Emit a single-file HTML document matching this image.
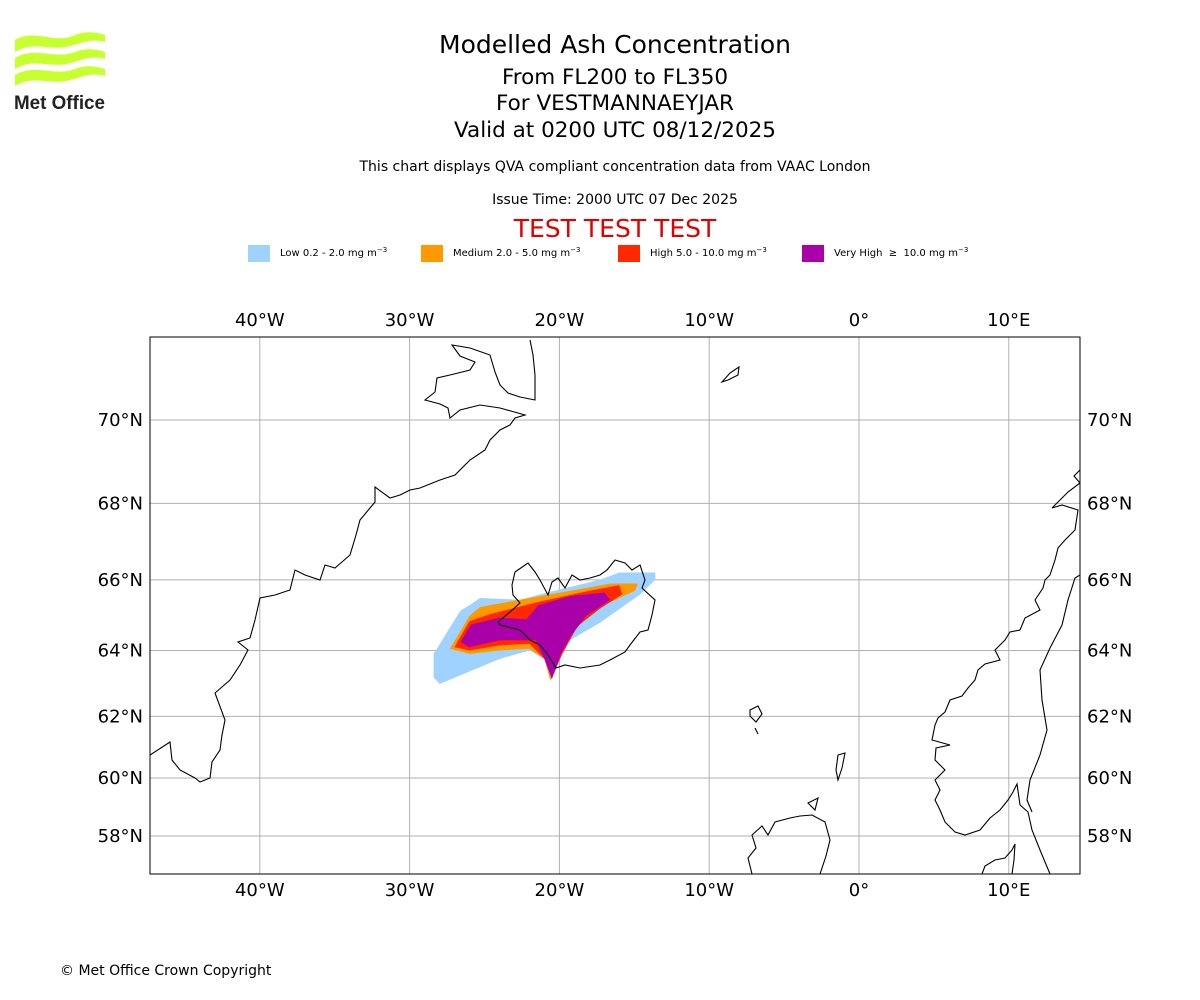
<!DOCTYPE html>
<html><head><meta charset="utf-8"><style>
body{margin:0;background:#fff;}
svg{display:block;font-family:"DejaVu Sans","Liberation Sans",sans-serif;}
</style></head><body>
<svg id="chart" width="1200" height="1000" viewBox="0 0 1200 1000">
<g>
<path d="M15,40 C35,28 55,45 75,35 C88,30 98,33 105,35 L105,42 C90,38 80,44 70,46 C50,52 35,40 15,52Z" fill="#c8ff2e"/>
<path d="M15,58 C35,46 55,60 75,52 C88,47 98,50 105,52 L105,59 C90,55 80,61 70,63 C50,69 35,57 15,69Z" fill="#c8ff2e"/>
<path d="M15,75 C35,63 55,77 75,69 C88,64 98,67 105,69 L105,76 C90,72 80,78 70,80 C50,86 35,74 15,86Z" fill="#c8ff2e"/>
<text x="14" y="109" font-size="19" font-weight="bold" fill="#222" font-family="Liberation Sans,sans-serif" textLength="91" lengthAdjust="spacingAndGlyphs">Met Office</text>
</g>
<g text-anchor="middle" fill="#000">
<text x="615" y="53" font-size="25">Modelled Ash Concentration</text>
<text x="615" y="84" font-size="21.5">From FL200 to FL350</text>
<text x="615" y="110" font-size="21.5">For VESTMANNAEYJAR</text>
<text x="615" y="137" font-size="21.5">Valid at 0200 UTC 08/12/2025</text>
<text x="615" y="171" font-size="14">This chart displays QVA compliant concentration data from VAAC London</text>
<text x="615" y="204" font-size="14">Issue Time: 2000 UTC 07 Dec 2025</text>
<text x="615" y="237" font-size="25" fill="#e00000">TEST TEST TEST</text>
</g>
<g font-size="10">
<g><rect x="248" y="245" width="22" height="17" fill="#a0d2ff"/><text x="280" y="256">Low 0.2 - 2.0 mg m<tspan dy="-4" font-size="7">−3</tspan></text></g>
<g><rect x="421" y="245" width="22" height="17" fill="#ff9900"/><text x="453" y="256">Medium 2.0 - 5.0 mg m<tspan dy="-4" font-size="7">−3</tspan></text></g>
<g><rect x="618" y="245" width="22" height="17" fill="#ff2800"/><text x="650" y="256">High 5.0 - 10.0 mg m<tspan dy="-4" font-size="7">−3</tspan></text></g>
<g><rect x="802" y="245" width="22" height="17" fill="#aa00aa"/><text x="834" y="256" xml:space="preserve">Very High  ≥  10.0 mg m<tspan dy="-4" font-size="7">−3</tspan></text></g>
</g>
<defs><clipPath id="mapclip"><rect x="150" y="337" width="930" height="537"/></clipPath></defs>
<g id="grid"></g>
<g id="plume" clip-path="url(#mapclip)"></g>
<g clip-path="url(#mapclip)" fill="none" stroke="#000" stroke-width="1.1">
<path d="M150,755 L170,742 L172,760 L180,770 L195,778 L200,782 L210,778 L212,762 L220,750 L222,735 L225,720 L215,693 L230,680 L240,665 L248,650 L238,642 L250,638 L255,620 L260,598 L275,595 L290,590 L295,570 L305,575 L320,580 L325,565 L335,568 L350,555 L356,535 L360,520 L375,502 L375,487 L390,498 L400,495 L410,490 L420,488 L440,480 L455,475 L465,465 L470,460 L485,450 L490,440 L500,430 L510,425 L515,418 L525,415 L500,408 L480,405 L460,410 L450,418 L448,408 L440,404 L425,400 L435,392 L437,378 L450,375 L470,370 L475,362 L460,356 L452,345 L470,348 L490,355 L495,372 L500,385 L508,393 L520,397 L535,400 L535,375 L533,355 L530,340"/>
<path d="M498,622 L510,612 L520,603 L513,595 L512,585 L515,572 L528,563 L535,572 L540,580 L548,595 L552,582 L558,578 L565,588 L572,575 L580,580 L590,578 L600,575 L607,570 L615,560 L625,563 L632,570 L640,565 L645,580 L642,588 L655,600 L652,615 L648,630 L640,632 L630,645 L625,652 L610,660 L600,665 L580,668 L565,665 L556,668 L548,655 L540,645 L530,640 L520,630 L500,625Z"/>
<path d="M722,382 L730,373 L739,367 L738,375 L728,380Z"/>
<path d="M750,710 L758,706 L762,714 L756,722 L750,716Z M755,728 L758,734"/>
<path d="M838,755 L845,753 L842,768 L838,780 L836,770Z"/>
<path d="M808,803 L818,798 L815,810Z"/>
<path d="M752,874 L748,858 L756,848 L752,835 L762,826 L768,835 L775,822 L790,818 L800,816 L812,815 L825,822 L830,840 L826,856 L820,874"/>
<path d="M1080,470 L1074,476 L1080,483 L1068,492 L1060,500 L1052,508 L1062,505 L1078,510 L1075,530 L1065,540 L1058,548 L1055,560 L1050,575 L1045,580 L1043,588 L1035,600 L1040,610 L1025,618 L1020,630 L1010,632 L1005,640 L995,650 L1000,660 L985,664 L978,670 L975,680 L968,688 L962,696 L950,700 L945,712 L938,718 L935,725 L932,740 L950,745 L936,748 L935,760 L945,770 L935,780 L940,790 L935,800 L940,810 L945,822 L955,832 L965,835 L980,830 L990,818 L1000,810 L1008,800 L1013,792 L1017,784 L1020,805 L1028,812 L1032,830 L1040,850 L1050,874"/>
<path d="M1080,575 L1075,578 L1068,600 L1062,625 L1050,648 L1040,670 L1042,700 L1047,730 L1040,755 L1030,780 L1027,800 L1032,812"/>
<path d="M982,874 L985,866 L995,860 L1005,858 L1012,850 L1015,844 L1014,860 L1012,874"/>
</g>
<rect x="150" y="337" width="930" height="537" fill="none" stroke="#000" stroke-width="1"/>
<text x="60" y="975" font-size="14">© Met Office Crown Copyright</text>
</svg>
<script>
const lonTicks=[-40,-30,-20,-10,0,10];
const lonLabels=["40°W","30°W","20°W","10°W","0°","10°E"];
const latTicks=[70,68,66,64,62,60,58];
const latLabels=["70°N","68°N","66°N","64°N","62°N","60°N","58°N"];
const lowLon=[-28.4,-28.4,-26.6,-26.0,-25.3,-22.6,-21.3,-17.3,-16.0,-13.6,-13.6,-14.6,-17.3,-19.3,-20.0,-20.3,-21.0,-22.0,-24.0,-28.0];
const lowLat=[63.2,63.9,65.15,65.3,65.5,65.45,65.6,66.0,66.2,66.2,66.0,65.6,64.8,64.3,63.75,63.3,63.75,64.0,63.75,63.0];
const medLon=[-27.3,-26.0,-25.3,-22.0,-18.6,-16.6,-14.75,-14.95,-17.3,-19.0,-20.0,-20.6,-21.0,-22.0,-24.0,-26.0];
const medLat=[64.05,65.0,65.25,65.5,65.75,65.9,65.9,65.7,65.25,64.8,63.75,63.1,63.75,64.05,64.0,63.9];
const highLon=[-27.0,-26.0,-24.6,-21.3,-18.0,-16.0,-15.8,-17.3,-18.8,-19.8,-20.5,-21.0,-22.0,-24.0,-26.0];
const highLat=[64.1,64.85,65.05,65.4,65.7,65.85,65.6,65.2,64.7,63.9,63.2,63.75,64.2,64.15,64.0];
const vhighLon=[-26.6,-25.9,-24.0,-22.2,-21.4,-19.3,-17.0,-16.6,-18.2,-19.2,-19.9,-20.5,-21.0,-21.6,-24.0,-26.0];
const vhighLat=[64.25,64.75,64.95,64.9,65.3,65.55,65.65,65.45,65.0,64.45,63.9,63.15,63.75,64.3,64.3,64.1];

const NS='http://www.w3.org/2000/svg';
const X0=859,PX=14.98,K=855.4;
function merc(lat){return Math.log(Math.tan(Math.PI/4+lat*Math.PI/360));}
function xS(lon){return X0+lon*PX;}
function yS(lat){return 420+K*(merc(70)-merc(lat));}
function mk(tag,attrs,parent){const e=document.createElementNS(NS,tag);for(const k in attrs)e.setAttribute(k,attrs[k]);parent.appendChild(e);return e;}
const grid=document.getElementById('grid');
lonTicks.forEach((lon,i)=>{
  const x=xS(lon);
  const l=mk('line',{x1:x,x2:x,y1:337,y2:874,stroke:'#b0b0b0','stroke-width':1},grid);
  
  
  const t1=mk('text',{x:x,y:326,'font-size':18,'text-anchor':'middle'},grid);t1.textContent=lonLabels[i];
  
  
  const t2=mk('text',{x:x,y:896,'font-size':18,'text-anchor':'middle'},grid);t2.textContent=lonLabels[i];
  
  
});
latTicks.forEach((lat,i)=>{
  const y=yS(lat);
  const l=mk('line',{x1:150,x2:1080,y1:y,y2:y,stroke:'#b0b0b0','stroke-width':1},grid);
  
  
  const t1=mk('text',{x:143,y:y+6,'font-size':18,'text-anchor':'end'},grid);t1.textContent=latLabels[i];
  
  
  const t2=mk('text',{x:1087,y:y+6,'font-size':18,'text-anchor':'start'},grid);t2.textContent=latLabels[i];
  
  
});
const plume=document.getElementById('plume');
function poly(lons,lats,color,name){
  const pts=lons.map((lo,i)=>xS(lo).toFixed(1)+','+yS(lats[i]).toFixed(1)).join(' ');
  const p=mk('polygon',{points:pts,fill:color,'stroke-linejoin':'round'},plume);
  
  
}
poly(lowLon,lowLat,'#a0d2ff','plume-low');
poly(medLon,medLat,'#ff9900','plume-medium');
poly(highLon,highLat,'#ff2800','plume-high');
poly(vhighLon,vhighLat,'#aa00aa','plume-very-high');
</script>
</body></html>
